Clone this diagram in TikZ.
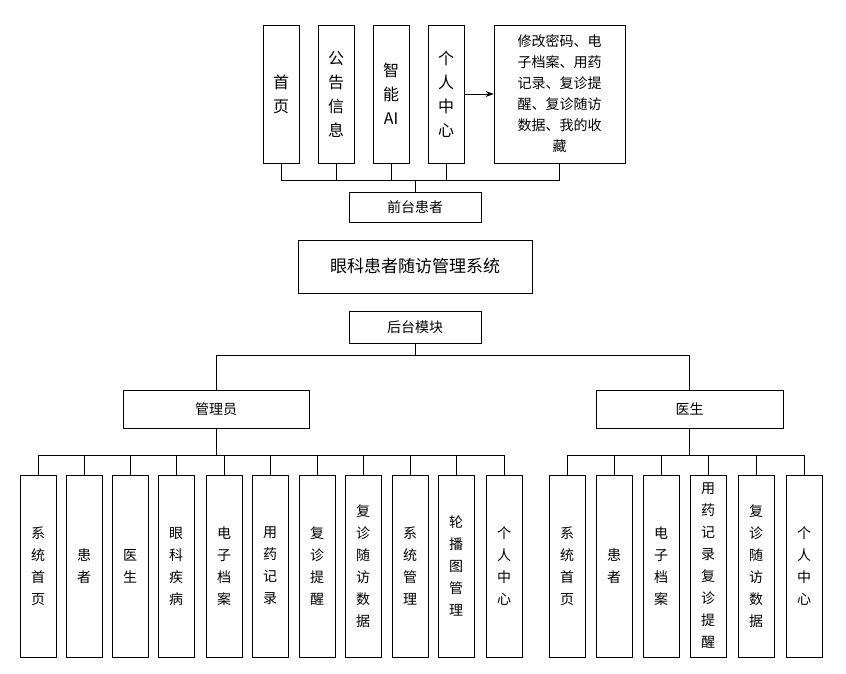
\documentclass[tikz,border=0pt]{standalone}
\usepackage{fontspec}
\setmainfont{Noto Sans CJK SC}
\usetikzlibrary{arrows.meta}
\begin{document}
\begin{tikzpicture}[x=1pt,y=-1pt,
  box/.style={draw,line width=0.8pt,inner sep=0pt,align=center,font=\fontsize{14}{22}\selectfont},
  top/.style={box,minimum width=36pt,minimum height=138pt,font=\fontsize{16}{24}\selectfont},
  bot/.style={box,minimum width=36pt,minimum height=182pt},
  ln/.style={line width=0.8pt}]
\useasboundingbox (0,0) rectangle (846,674);
\node[top] (t1) at (281,94) {首\\页};
\node[top] (t2) at (336,94) {公\\告\\信\\息};
\node[top] (t3) at (391,94) {智\\能\\AI};
\node[top] (t4) at (446,94) {个\\人\\中\\心};
\node[box,minimum width=131pt,minimum height=138pt,font=\fontsize{14}{21}\selectfont] (t5) at (559.5,94) {修改密码、电\\子档案、用药\\记录、复诊提\\醒、复诊随访\\数据、我的收\\藏};
\draw[ln,-{Stealth[length=8pt]}] (t4) -- (t5);
\node[box,minimum width=132pt,minimum height=30pt] (fp) at (415,207) {前台患者};
\node[box,minimum width=234pt,minimum height=53pt,font=\fontsize{17}{20}\selectfont] (sys) at (415,266.5) {眼科患者随访管理系统};
\node[box,minimum width=132pt,minimum height=32pt] (bk) at (415,327) {后台模块};
\node[box,minimum width=186pt,minimum height=38pt] (adm) at (216,409) {管理员};
\node[box,minimum width=187pt,minimum height=38pt] (doc) at (689.5,409) {医生};
\coordinate (tb) at (415,180);
\foreach \n in {t1,t2,t3,t4,t5} \draw[ln] (\n.south) -- (\n.south |- tb);
\draw[ln] (t1.south |- tb) -- (t5.south |- tb);
\draw[ln] (tb) -- (fp.north);
\draw[ln] (bk.south) -- ++(0,12) coordinate (mb);
\draw[ln] (adm.north) |- (mb) -| (doc.north);
% admin children
\foreach \i/\x/\t in {1/38/{系\\统\\首\\页},2/84/{患\\者},3/130/{医\\生},4/176/{眼\\科\\疾\\病},5/224/{电\\子\\档\\案},6/270/{用\\药\\记\\录},7/317/{复\\诊\\提\\醒},8/363/{复\\诊\\随\\访\\数\\据},9/410/{系\\统\\管\\理},10/456/{轮\\播\\图\\管\\理},11/504/{个\\人\\中\\心}}
  \node[bot] (a\i) at (\x,566) {\t};
\foreach \i/\x/\t in {1/567/{系\\统\\首\\页},2/614/{患\\者},3/661/{电\\子\\档\\案},4/708/{用\\药\\记\\录\\复\\诊\\提\\醒},5/756/{复\\诊\\随\\访\\数\\据},6/804/{个\\人\\中\\心}}
  \node[bot] (d\i) at (\x,566) {\t};
\coordinate (ab) at (216,455);
\draw[ln] (adm.south) -- (ab);
\draw[ln] (a1.north |- ab) -- (a11.north |- ab);
\foreach \i in {1,...,11} \draw[ln] (a\i.north) -- (a\i.north |- ab);
\draw[ln] (doc.south) -- (doc.south |- ab);
\draw[ln] (d1.north |- ab) -- (d6.north |- ab);
\foreach \i in {1,...,6} \draw[ln] (d\i.north) -- (d\i.north |- ab);
\end{tikzpicture}
\end{document}
